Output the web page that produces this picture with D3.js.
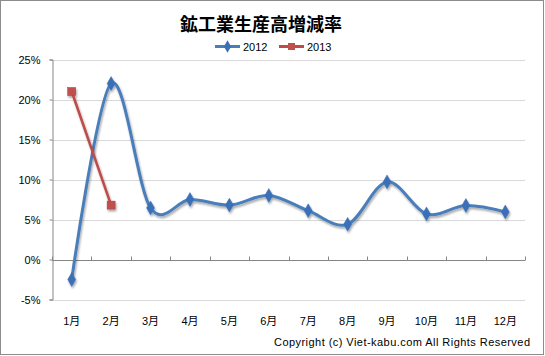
<!DOCTYPE html>
<html><head><meta charset="utf-8">
<script src="https://cdn.jsdelivr.net/npm/d3@7"></script>
<style>
html,body{margin:0;padding:0;background:#fff;}
text{font-family:"Liberation Sans","Noto Sans CJK JP",sans-serif;}
</style></head>
<body>
<svg id="c" width="545" height="356"></svg>
<script>
const title = "鉱工業生産高増減率";
const months = ["1月","2月","3月","4月","5月","6月","7月","8月","9月","10月","11月","12月"];
const values2012 = [-2.5, 22.0, 6.45, 7.5, 6.8, 8.0, 6.1, 4.4, 9.7, 5.7, 6.75, 5.95];
const values2013 = [21.0, 6.8];
const yTicks = [-5, 0, 5, 10, 15, 20, 25];
const seriesNames = ["2012", "2013"];
const copyright = "Copyright (c) Viet-kabu.com  All Rights Reserved";

const svg = d3.select("#c");
const W = 545, H = 356;

svg.append("rect").attr("x",0.5).attr("y",0.5).attr("width",W-2).attr("height",H-2)
  .attr("fill","#fff").attr("stroke","#8c8c8c").attr("stroke-width",1);

const defs = svg.append("defs");
const f = defs.append("filter").attr("id","sh").attr("x","-20%").attr("y","-20%").attr("width","140%").attr("height","140%");
f.append("feGaussianBlur").attr("in","SourceAlpha").attr("stdDeviation",1.2).attr("result","b");
f.append("feOffset").attr("in","b").attr("dx",1).attr("dy",1.5).attr("result","o");
f.append("feComponentTransfer").attr("in","o").attr("result","o2")
  .append("feFuncA").attr("type","linear").attr("slope",0.35);
const fm = f.append("feMerge");
fm.append("feMergeNode").attr("in","o2");
fm.append("feMergeNode").attr("in","SourceGraphic");

const x = d3.scaleBand().domain(months).range([52, 525]).paddingInner(0).paddingOuter(0);
const y = d3.scaleLinear().domain([-5, 25]).range([299.5, 59.5]);

// gridlines
svg.append("g").selectAll("line").data(yTicks.filter(d => d !== 0)).join("line")
  .attr("x1", 52).attr("x2", 525).attr("y1", d => Math.round(y(d)) + 0.5).attr("y2", d => Math.round(y(d)) + 0.5)
  .attr("stroke", "#d9d9d9").attr("stroke-width", 1);

// y axis
const yAxis = d3.axisLeft(y).tickValues(yTicks).tickFormat(d => d + "%").tickSize(3).tickPadding(9);
const gy = svg.append("g").attr("transform", "translate(52.5,0)").call(yAxis);
gy.select(".domain").attr("stroke", "#868686");
gy.selectAll(".tick line").attr("stroke", "#868686");
gy.selectAll("text").attr("font-size", 11).attr("fill", "#000");

// x axis at 0
const gx = svg.append("g").attr("transform", `translate(0,${Math.round(y(0)) + 0.5})`);
gx.append("line").attr("x1", 52).attr("x2", 525).attr("stroke", "#868686");
gx.selectAll(".tk").data(d3.range(months.length + 1)).join("line")
  .attr("x1", i => Math.round(52 + i * x.bandwidth()) + 0.5)
  .attr("x2", i => Math.round(52 + i * x.bandwidth()) + 0.5)
  .attr("y1", 0).attr("y2", -4).attr("stroke", "#868686");

// x labels
svg.append("g").selectAll("text").data(months).join("text")
  .attr("x", d => x(d) + x.bandwidth() / 2).attr("y", 325)
  .attr("text-anchor", "middle").attr("font-size", 11).attr("fill", "#000").text(d => d);

// lines
const cx = (d, i) => x(months[i]) + x.bandwidth() / 2;
const line = d3.line().x(cx).y(d => y(d)).curve(d3.curveCardinal.tension(0));
const line2 = d3.line().x(cx).y(d => y(d));

const blue = "#4A7EBB", red = "#BE4B48";
const g1 = svg.append("g").attr("filter", "url(#sh)");
g1.append("path").datum(values2012).attr("d", line).attr("fill", "none").attr("stroke", blue).attr("stroke-width", 3).attr("stroke-linejoin","round");
g1.selectAll("path.mk").data(values2012).join("path").attr("class","mk")
  .attr("d", d3.symbol(d3.symbolDiamond, 55))
  .attr("transform", (d, i) => `translate(${cx(d, i)},${y(d)})`)
  .attr("fill", "#3B6FB6").attr("stroke", "#3B6FB6").attr("stroke-width", 0.5);

const g2 = svg.append("g").attr("filter", "url(#sh)");
g2.append("path").datum(values2013).attr("d", line2).attr("fill", "none").attr("stroke", red).attr("stroke-width", 2.5);
g2.selectAll("rect").data(values2013).join("rect")
  .attr("x", (d, i) => cx(d, i) - 4).attr("y", d => y(d) - 4)
  .attr("width", 8).attr("height", 8).attr("fill", "#C0504D").attr("stroke", "#A33E3B").attr("stroke-width", 0.5);

// title
svg.append("text").attr("x", 261).attr("y", 31).attr("text-anchor", "middle")
  .style("font-family", "'Noto Sans CJK JP'")
  .attr("font-size", 18).attr("font-weight", "bold").attr("fill", "#000").text(title);

// legend
const lg = svg.append("g");
const lx = [215, 279];
const cols = [blue, red];
seriesNames.forEach((s, i) => {
  lg.append("line").attr("x1", lx[i]).attr("x2", lx[i] + 25).attr("y1", 46.5).attr("y2", 46.5)
    .attr("stroke", cols[i]).attr("stroke-width", 3);
  if (i === 0) {
    lg.append("path").attr("d", d3.symbol(d3.symbolDiamond, 45)).attr("transform", `translate(${lx[i] + 12.5},46.5)`).attr("fill", "#3B6FB6");
  } else {
    lg.append("rect").attr("x", lx[i] + 9).attr("y", 43).attr("width", 7).attr("height", 7).attr("fill", "#C0504D");
  }
  lg.append("text").attr("x", lx[i] + 28).attr("y", 50.5).attr("font-size", 11).attr("fill", "#000").text(s);
});

// copyright
svg.append("text").attr("x", 274).attr("y", 346).attr("font-size", 11).attr("fill", "#000")
  .attr("textLength", 256).attr("lengthAdjust", "spacing").text(copyright);
</script>
</body></html>
